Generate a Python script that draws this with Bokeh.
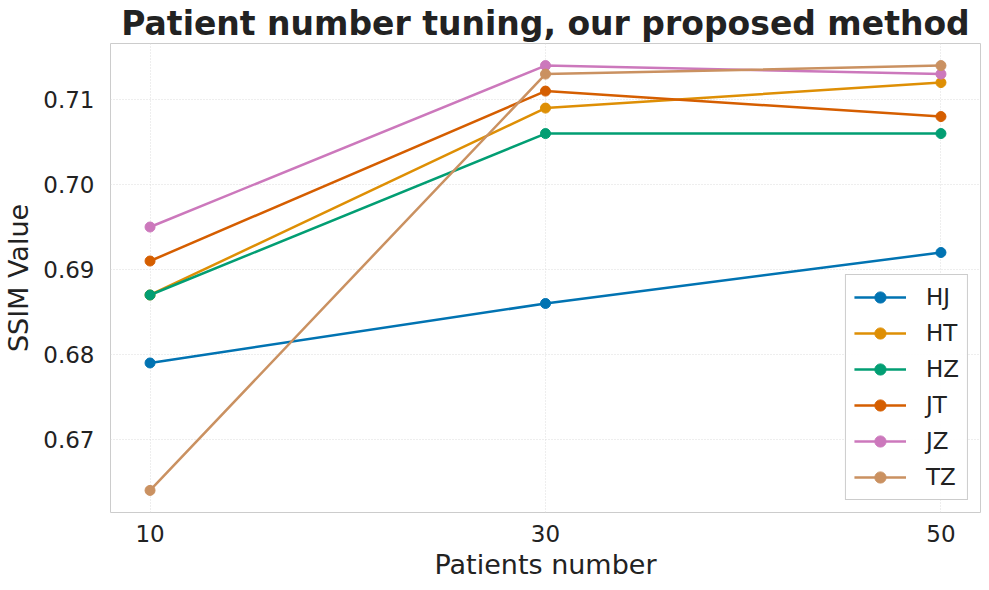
from bokeh.plotting import figure
from bokeh.models import FixedTicker, NumeralTickFormatter, Range1d, Legend, LegendItem
from bokeh.embed import file_html
from bokeh.resources import INLINE

patients = [10, 30, 50]
series_names = ["HJ", "HT", "HZ", "JT", "JZ", "TZ"]
hj = [0.679, 0.686, 0.692]
ht = [0.687, 0.709, 0.712]
hz = [0.687, 0.706, 0.706]
jt = [0.691, 0.711, 0.708]
jz = [0.695, 0.714, 0.713]
tz = [0.664, 0.713, 0.714]
colors = ["#0173b2", "#de8f05", "#029e73", "#d55e00", "#cc78bc", "#ca9161"]
y_ticks = [0.67, 0.68, 0.69, 0.70, 0.71]

FONT = "DejaVu Sans"

p = figure(width=981, height=582, output_backend="svg", toolbar_location=None,
           x_range=Range1d(8.0, 52.0), y_range=Range1d(0.6614, 0.7166),
           min_border_left=105, min_border_right=1, min_border_top=38, min_border_bottom=69)

p.title.text = "Patient number tuning, our proposed method"
p.title.text_font = FONT
p.title.text_font_size = "33px"
p.title.text_font_style = "bold"
p.title.text_color = "#222222"
p.title.align = "center"
p.title.offset = 0
p.title.standoff = 2

items = []
for name, ys, c in zip(series_names, [hj, ht, hz, jt, jz, tz], colors):
    r1 = p.line(patients, ys, line_color=c, line_width=2.5)
    r2 = p.scatter(patients, ys, size=10, fill_color=c, line_color=c)
    items.append(LegendItem(label=name, renderers=[r1, r2]))

legend = Legend(items=items, location="bottom_right")
legend.label_text_font = FONT
legend.label_text_font_size = "23px"
legend.label_text_color = "#222222"
legend.glyph_width = 52
legend.glyph_height = 28
legend.label_height = 28
legend.spacing = 8
legend.padding = 8
legend.margin = 12
legend.border_line_color = "#cccccc"
legend.border_line_alpha = 1
legend.background_fill_alpha = 0.9
legend.label_standoff = 20
p.add_layout(legend)

p.xaxis.ticker = FixedTicker(ticks=patients)
p.yaxis.ticker = FixedTicker(ticks=y_ticks)
p.yaxis.formatter = NumeralTickFormatter(format="0.00")
p.xaxis.axis_label = "Patients number"
p.yaxis.axis_label = "SSIM Value"
for ax in [p.xaxis[0], p.yaxis[0]]:
    ax.axis_label_text_font = FONT
    ax.axis_label_text_font_size = "27px"
    ax.axis_label_text_font_style = "normal"
    ax.axis_label_text_color = "#222222"
    ax.major_label_text_font = FONT
    ax.major_label_text_font_size = "23px"
    ax.major_label_text_color = "#222222"
    ax.axis_line_color = None
    ax.major_tick_line_color = None
    ax.minor_tick_line_color = None
p.xaxis.major_label_standoff = 6
p.xaxis.axis_label_standoff = 4
p.yaxis.major_label_standoff = 10
p.yaxis.axis_label_standoff = 6

p.xgrid.grid_line_color = "#dddddd"
p.ygrid.grid_line_color = "#dddddd"
p.xgrid.grid_line_dash = "1 2"
p.ygrid.grid_line_dash = "1 2"
p.outline_line_color = "#cccccc"
p.outline_line_width = 1

open("out.html", "w").write(file_html(p, INLINE))
